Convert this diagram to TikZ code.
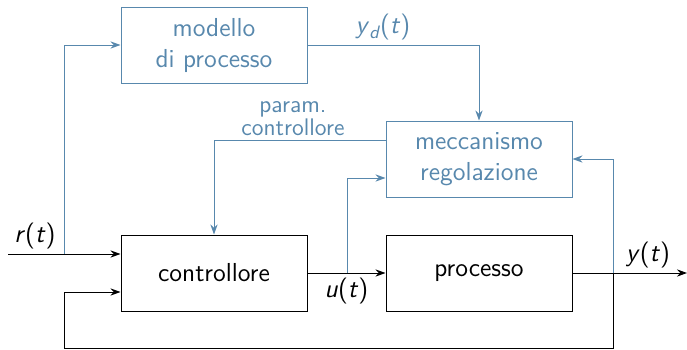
\documentclass[tikz,border=0pt]{standalone}
\usepackage{fontspec}
\usepackage{tikz}
\usetikzlibrary{positioning,arrows.meta,calc}
\usepackage{xcolor}
\definecolor{blu}{RGB}{88,136,173}
\newcommand{\sv}[1]{\textit{#1}}

\begin{document}
\begin{tikzpicture}[x=0.5pt, y=-0.5pt,
    >={Stealth[length=5pt,width=3.6pt]}, line width=0.5pt,
    node distance=114pt and 132.5pt, on grid,
    blocco/.style={draw, rectangle, minimum width=93pt, minimum height=38pt,
      inner sep=0pt, font=\fontsize{13}{15.5}\selectfont\sffamily, align=center},
    blublocco/.style={blocco, draw=blu, text=blu},
    etich/.style={font=\fontsize{13}{15.5}\selectfont\sffamily, inner sep=2pt}]
  \useasboundingbox (0,0) rectangle (687,349);
  \node[blocco] (ctrl) at (214,273) {controllore};
  \node[blocco, right=of ctrl] (proc) {processo};
  \node[blublocco, above=57pt of proc] (mecc) {meccanismo\\regolazione};
  \node[blublocco, above=of ctrl] (mod) {modello\\di processo};
  \coordinate (rin) at (8,254);
  \coordinate (yout) at (687,273);
  \coordinate (sr) at (64,254);
  \coordinate (su) at (347,273);
  \coordinate (sy) at (613,273);
  \coordinate (fbl) at (64,348);
  % anello principale
  \draw[->] (rin) -- node[etich, pos=0.24, above] {\sv{r}(\sv{t})} ([yshift=9.5pt]ctrl.west);
  \draw[->] (ctrl) -- node[etich, below] {\sv{u}(\sv{t})} (proc);
  \draw[->] (proc) -- node[etich, pos=0.66, above] {\sv{y}(\sv{t})} (yout);
  \draw[->] (sy) |- (fbl) |- ([yshift=-9.5pt]ctrl.west);
  % adattamento
  \draw[blu, ->] (sr) |- (mod);
  \draw[blu, ->] (mod) -| node[etich, text=blu, pos=0.22, above]
    {\sv{y}\raisebox{-0.35ex}{\fontsize{9}{10}\selectfont\sv{d}}(\sv{t})} (mecc);
  \draw[blu, ->] (su) |- ([yshift=-9.5pt]mecc.west);
  \draw[blu, ->] (sy) |- (mecc);
  \draw[blu, ->] ([yshift=9.5pt]mecc.west) -| node[etich, text=blu, pos=0.27, above,
    font=\fontsize{12}{11.5}\selectfont\sffamily, align=center] {param.\\controllore} (ctrl);
\end{tikzpicture}
\end{document}
